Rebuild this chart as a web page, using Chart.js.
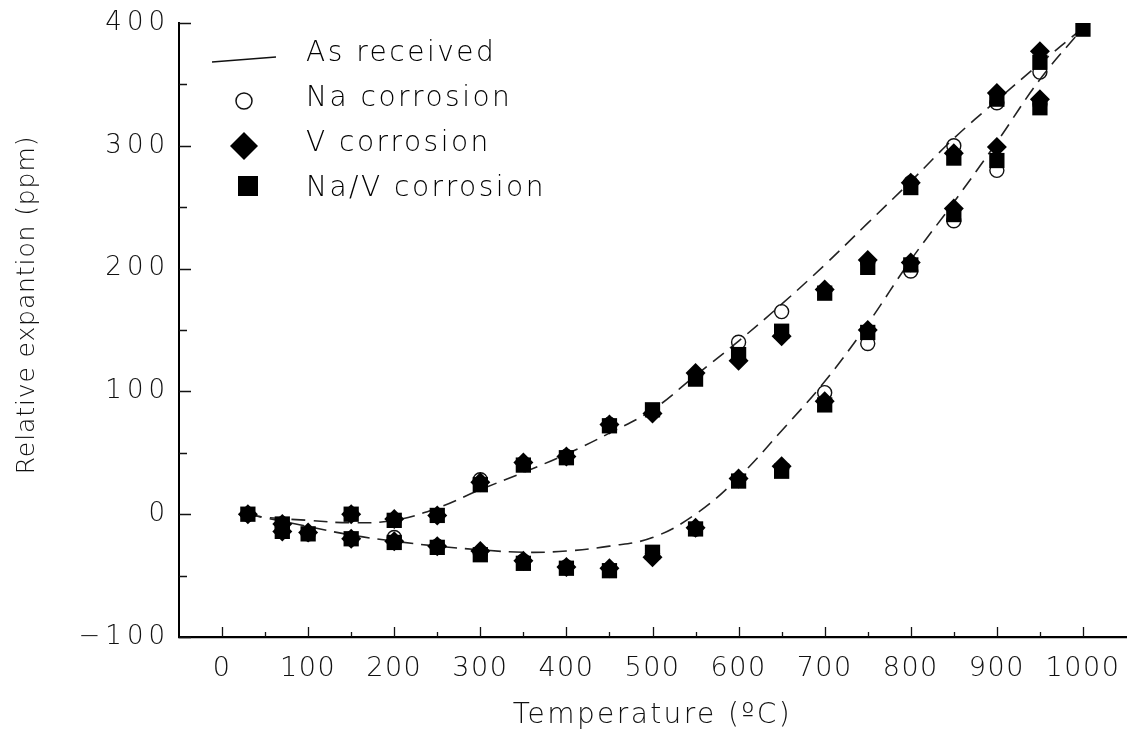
<!DOCTYPE html>
<html><head><meta charset="utf-8">
<script src="https://cdn.jsdelivr.net/npm/chart.js@4.4.1/dist/chart.umd.min.js"></script>
<style>html,body{margin:0;padding:0;background:#fff;} #wrap{width:1127px;height:737px;position:relative;}</style>
</head><body><div id="wrap"><canvas id="c" width="1127" height="737" style="width:1127px;height:737px"></canvas></div>
<script>
// ---- data ----
const upperTemps = [30,70,150,200,250,300,350,400,450,500,550,600,650,700,750,800,850,900,950,1000];
const lowerTemps = [70,100,150,200,250,300,350,400,450,500,550,600,650,700,750,800,850,900,950];
const naUpper = [0,-8,0,-5,-1,28,41,47,73,83,113,140,165,182,205,270,300,335,360,null];
const naLower = [-14,-16,-20,-19,-26,-32,-38,-43,-45,-32,-12,28,37,99,139,198,239,280,334];
const vUpper  = [0,-8,0,-4,-1,26,42,47,73,82,115,125,145,183,207,270,294,343,377,null];
const vLower  = [-14,-15,-20,-22,-26,-30,-38,-43,-44,-35,-11,29,39,92,150,205,249,299,338];
const nvUpper = [0,-8,0,-5,-1,24,40,46,72,85,110,130,149,180,201,266,290,338,368,395];
const nvLower = [-14,-16,-20,-23,-27,-33,-40,-44,-46,-31,-12,27,35,89,148,203,244,288,331];
const curveTemps = [30,50,100,150,200,250,300,350,400,450,500,550,600,650,700,750,800,850,900,950,1000];
const curveUpper = [0,-2.5,-5,-7,-5,5,20,34,49,66,85,113,141,171,203,237,271,306,337,367,396];
const curveLower = [0,-3,-10,-17,-22,-26,-29,-31,-30,-26,-19,0,30,68,108,155,207,254,303,354,396];
const xTickLabels = [0,100,200,300,400,500,600,700,800,900,1000];
const yTickLabels = [-100,0,100,200,300,400];
const legendNames = ['As received','Na corrosion','V corrosion','Na/V corrosion'];

const FONT = "'DejaVu Sans', 'Liberation Sans', sans-serif";
function pts(t, v){ return t.map((x,i)=>({x:x, y:v[i]})).filter(p=>p.y!==null); }

function mk(w,h,draw){ const c=document.createElement('canvas'); c.width=w; c.height=h; const g=c.getContext('2d'); draw(g); return c; }
const legLine = mk(66,22,g=>{ g.strokeStyle='#111'; g.lineWidth=1.5; g.beginPath(); g.moveTo(1,19); g.lineTo(65,14); g.stroke(); });
const legCircle = mk(24,26,g=>{ g.strokeStyle='#111'; g.lineWidth=1.5; g.beginPath(); g.arc(12,15,8,0,Math.PI*2); g.stroke(); });
const legDiamond = mk(32,34,g=>{ g.fillStyle='#000'; g.beginPath(); g.moveTo(2,19); g.lineTo(16,5); g.lineTo(30,19); g.lineTo(16,33); g.closePath(); g.fill(); });
const legSquare = mk(36,28,g=>{ g.fillStyle='#000'; g.fillRect(12,1,20,20); });
const legendStyles = [legLine, legCircle, legDiamond, legSquare];

const insideTicks = {
  id:'insideTicks',
  afterDraw(chart){
    const ctx=chart.ctx, xs=chart.scales.x, ys=chart.scales.y;
    ctx.save(); ctx.strokeStyle='#111'; ctx.lineWidth=1.3;
    ctx.beginPath();
    for (let v=0; v<=1000; v+=50){
      const px=Math.round(xs.getPixelForValue(v))+0.5, len=(v%100===0)?10:5;
      ctx.moveTo(px, ys.bottom); ctx.lineTo(px, ys.bottom-len);
    }
    for (let v=-100; v<=400; v+=50){
      const py=Math.round(ys.getPixelForValue(v))+0.5, len=(v%100===0)?12:8;
      ctx.moveTo(xs.left, py); ctx.lineTo(xs.left+len, py);
    }
    ctx.stroke(); ctx.restore();
  }
};

// placement / letter spacing tweaks for boxes and text drawn by Chart.js itself
const styler = {
  id:'styler',
  afterLayout(chart){
    const ctx = chart.ctx;
    // let the plot area run to the right edge, as in the reference
    const ca = chart.chartArea, target = chart.width - 1;
    ca.right = target; ca.width = ca.right - ca.left;
    const xs = chart.scales.x;
    xs.right = target; xs.width = xs.right - xs.left; xs.configure();
    chart.legend.top = ca.top;
    chart.legend.bottom = ca.bottom;
    const wrap = (obj, name, sp, dy) => {
      if (!obj || obj['__w_'+name]) return;
      obj['__w_'+name] = true;
      const orig = obj[name].bind(obj);
      obj[name] = function(...a){ ctx.save(); ctx.letterSpacing = sp; if (dy) ctx.translate(0, dy); orig(...a); ctx.restore(); };
    };
    wrap(chart.scales.y,'drawLabels','5px');
    wrap(chart.scales.x,'drawLabels','1.5px');
    wrap(chart.scales.x,'drawTitle','2.4px');
    wrap(chart.scales.y,'drawTitle','0.9px', -25);
    wrap(chart.legend,'draw','2.5px');
  }
};

const lineStyle = {type:'line', showLine:true, pointRadius:0, borderColor:'#222', borderWidth:1.6, borderDash:[14,8], tension:0.4, fill:false, order:5};

new Chart(document.getElementById('c'), {
  type:'scatter',
  data:{ datasets:[
    Object.assign({label:'As received (upper)', data:pts(curveTemps,curveUpper)}, lineStyle),
    Object.assign({label:'As received (lower)', data:pts(curveTemps,curveLower)}, lineStyle),
    {label:'Na corrosion', data:pts(upperTemps,naUpper).concat(pts(lowerTemps,naLower)), pointStyle:'circle', pointRadius:7, borderWidth:1.4, borderColor:'#111', backgroundColor:'rgba(0,0,0,0)', order:3},
    {label:'V corrosion', data:pts(upperTemps,vUpper).concat(pts(lowerTemps,vLower)), pointStyle:'rectRot', pointRadius:10, borderWidth:0, borderColor:'#000', backgroundColor:'#000', order:2},
    {label:'Na/V corrosion', data:pts(upperTemps,nvUpper).concat(pts(lowerTemps,nvLower)), pointStyle:'rect', pointRadius:10.8, borderWidth:0, borderColor:'#000', backgroundColor:'#000', order:1}
  ]},
  options:{
    responsive:false, maintainAspectRatio:false, animation:false, devicePixelRatio:1,
    layout:{ padding:{top:23, right:1, left:0, bottom:0} },
    plugins:{
      tooltip:{enabled:false},
      legend:{
        position:'chartArea', align:'start',
        labels:{
          usePointStyle:true, pointStyleWidth:96, boxHeight:28, padding:17,
          color:'#000', font:{family:FONT, size:28, weight:'200'},
          generateLabels(){ return legendNames.map((n,i)=>({text:n, pointStyle:legendStyles[i], fillStyle:'#000', strokeStyle:'#000', lineWidth:0, hidden:false, fontColor:'#000', datasetIndex:i})); }
        }
      }
    },
    scales:{
      x:{
        type:'linear', min:-50, max:1050,
        afterBuildTicks(s){ s.ticks = xTickLabels.map(v=>({value:v})); },
        afterFit(s){ s.height = 100; s.paddingLeft = 0; s.paddingRight = 0; },
        grid:{display:false, drawTicks:false},
        border:{display:true, color:'#000', width:2.2},
        ticks:{ padding:16, color:'#111', font:{family:FONT, size:27, weight:'200'}, maxRotation:0, autoSkip:false, callback:v=>String(v) },
        title:{ display:true, text:'Temperature (ºC)', color:'#111', font:{family:FONT, size:28, weight:'200'}, padding:{top:4,bottom:4} }
      },
      y:{
        type:'linear', min:-100, max:400,
        afterBuildTicks(s){ s.ticks = yTickLabels.map(v=>({value:v})); },
        afterFit(s){ s.width = 179; s.paddingTop = 0; s.paddingBottom = 0; },
        grid:{display:false, drawTicks:false},
        border:{display:true, color:'#000', width:2},
        ticks:{ padding:9, color:'#111', font:{family:FONT, size:26, weight:'200'}, callback:v=> v<0 ? '\u2212'+Math.abs(v) : String(v) },
        title:{ display:true, text:'Relative expantion (ppm)', color:'#111', font:{family:FONT, size:25, weight:'200'}, padding:{top:12,bottom:4} }
      }
    }
  },
  plugins:[insideTicks, styler]
});
</script></body></html>
